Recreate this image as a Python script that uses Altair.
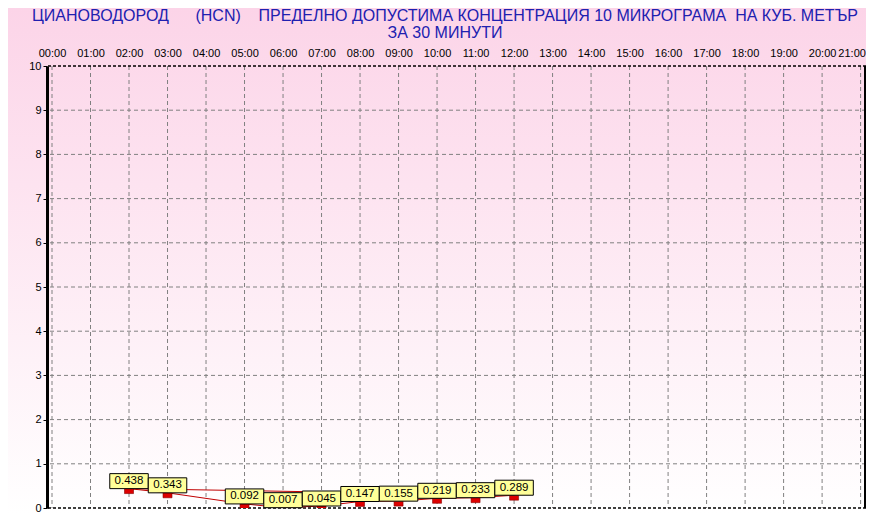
import altair as alt
import pandas as pd

# ---- data ----
hours = [2, 3, 5, 6, 7, 8, 9, 10, 11, 12]
values = [0.438, 0.343, 0.092, 0.007, 0.045, 0.147, 0.155, 0.219, 0.233, 0.289]
hour_ticks = list(range(0, 22))
y_ticks = list(range(0, 11))
title_lines = [
    "ЦИАНОВОДОРОД\u00a0\u00a0\u00a0\u00a0\u00a0\u00a0(HCN)\u00a0\u00a0\u00a0\u00a0ПРЕДЕЛНО ДОПУСТИМА КОНЦЕНТРАЦИЯ 10 МИКРОГРАМА\u00a0\u00a0НА КУБ. МЕТЪР",
    "ЗА 30 МИНУТИ",
]

W, H = 819, 442
PAD_L, PAD_T, PAD_R, PAD_B = 39, 58, 0, 6
FONT = "Liberation Sans"
one = pd.DataFrame({"a": [0]})

df = pd.DataFrame({"h": hours, "v": values})
df["lab"] = [f"{v:.3f}" for v in values]
close_df = pd.DataFrame({"h": [hours[0]], "v": [values[0]], "h2": [hours[-1]], "v2": [values[-1]]})
xt = pd.DataFrame({"h": hour_ticks})
yt = pd.DataFrame({"v": y_ticks[1:-1]})

xscale = alt.Scale(domain=[-0.13, 21.14], nice=False, zero=False)
yscale = alt.Scale(domain=[0, 10], nice=False)

xaxis = alt.Axis(orient="top", values=hour_ticks, grid=False, ticks=False, domain=False,
                 labelExpr="(datum.value < 10 ? '0' : '') + datum.value + ':00'",
                 labelFont=FONT, labelFontSize=11, labelColor="#000000", labelPadding=8,
                 labelOffset={"condition": {"test": f"datum.value == {hour_ticks[-1]}", "value": -9}, "value": 0},
                 labelOverlap=False, labelFlush=False, title=None, zindex=1)
yaxis = alt.Axis(values=y_ticks, grid=False, ticks=True, tickSize=4, tickColor="#000000",
                 domain=True, domainColor="#000000", domainWidth=3,
                 labelFont=FONT, labelFontSize=11, labelColor="#000000", labelPadding=2,
                 labelOverlap=False, title=None, zindex=1)

X = alt.X("h:Q", scale=xscale, axis=xaxis)
Y = alt.Y("v:Q", scale=yscale, axis=yaxis)
base = alt.Chart(df)

bg = alt.Chart(one).mark_rect(
    color=alt.LinearGradient(
        gradient="linear",
        stops=[alt.GradientStop(color="#FCD4E8", offset=0),
               alt.GradientStop(color="#FFFFFF", offset=1)],
        x1=0, x2=0, y1=0, y2=1,
    )
).encode(
    x=alt.value(-PAD_L), x2=alt.value(W + PAD_R),
    y=alt.value(-PAD_T), y2=alt.value(H + PAD_B),
)

title1 = alt.Chart(one).mark_text(font=FONT, fontSize=16, color="#2020B0", align="center",
                                  baseline="alphabetic").encode(
    x=alt.value(398), y=alt.value(-45), text=alt.value(title_lines[0]))
title2 = alt.Chart(one).mark_text(font=FONT, fontSize=16, color="#2020B0", align="center",
                                  baseline="alphabetic").encode(
    x=alt.value(398), y=alt.value(-28), text=alt.value(title_lines[1]))

vgrid = alt.Chart(xt).mark_rule(color="#808080", strokeDash=[4, 3], strokeWidth=1).encode(x=X)
hgrid = alt.Chart(yt).mark_rule(color="#808080", strokeDash=[4, 3], strokeWidth=1).encode(y=Y)
top_rule = alt.Chart(one).mark_rule(color="#000000", strokeDash=[3, 2], strokeWidth=1.5).encode(
    y=alt.datum(10, scale=yscale, axis=yaxis)
)
bot_rule = alt.Chart(one).mark_rule(color="#000000", strokeDash=[3, 2], strokeWidth=1.5).encode(
    y=alt.datum(0, scale=yscale, axis=yaxis)
)
right_rule = alt.Chart(one).mark_rule(color="#000000", strokeWidth=2).encode(
    x=alt.value(W - 1), y=alt.value(0), y2=alt.value(H)
)

line = base.mark_line(color="#C00000", strokeWidth=1, clip=True).encode(x=X, y=Y, order="h:Q")
close = alt.Chart(close_df).mark_rule(color="#C00000", strokeWidth=1).encode(
    x=X, y=Y, x2="h2:Q", y2="v2:Q"
)
markers = base.mark_point(shape="M-1,0H1V1.1H-1Z", size=81, filled=True, fill="#DD0000",
                          stroke="#880000", strokeWidth=0.6, opacity=1, clip=True).encode(x=X, y=Y)
boxes = base.mark_point(shape="M-1,-0.78H1V0H-1Z", size=1482, filled=True, fill="#FFFF99",
                        stroke="#000000", strokeWidth=1, opacity=1).encode(x=X, y=Y)
labels = base.mark_text(dy=-7.5, fontSize=11.5, font=FONT, color="#000000", baseline="middle",
                        align="center").encode(x=X, y=Y, text="lab:N")

chart = alt.layer(
    bg, title1, title2, vgrid, hgrid, top_rule, bot_rule, right_rule,
    close, line, markers, boxes, labels
).properties(
    width=W, height=H,
    padding={"left": PAD_L, "top": PAD_T, "right": PAD_R, "bottom": PAD_B},
    autosize=alt.AutoSizeParams(type="none"),
    background="#FFFFFF",
).configure_view(stroke=None).configure_axis(labelOverlap=False)

chart.save("out.html", embed_options={"renderer": "svg", "actions": False})
